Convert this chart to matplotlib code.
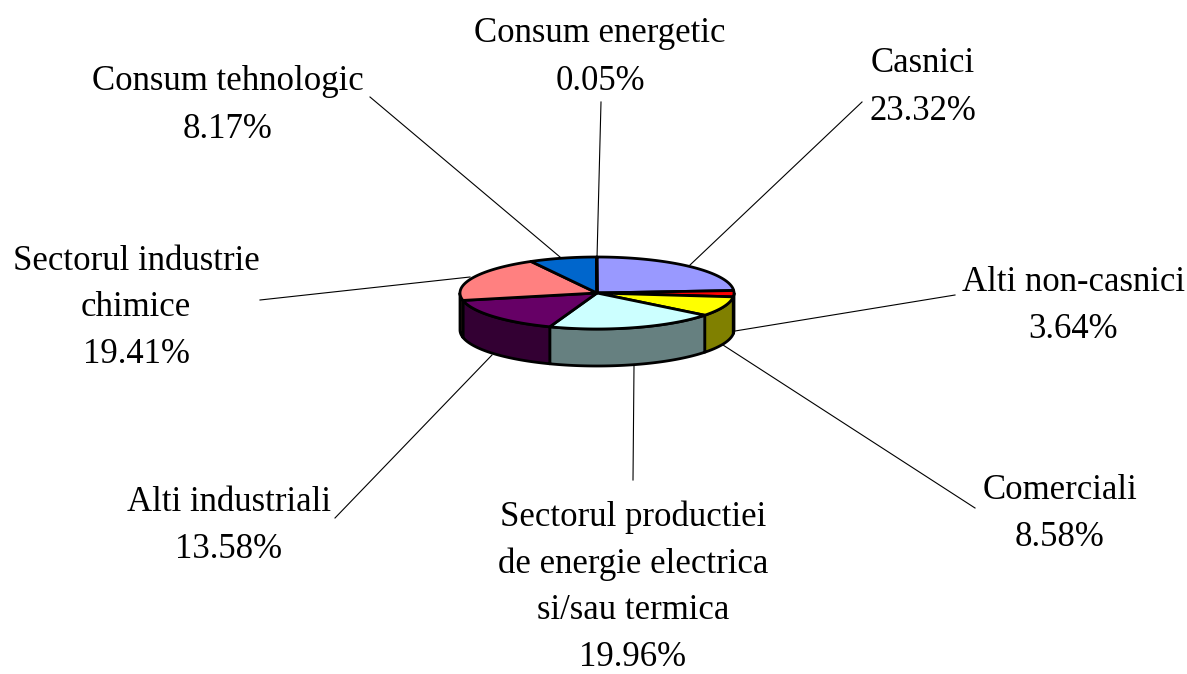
# Pseudo 3D pie of the consumption sectors
import numpy as np
import matplotlib
matplotlib.use('Agg')
import matplotlib.pyplot as plt

plt.rcParams['font.family'] = ['Liberation Serif', 'DejaVu Serif']

# Data, clockwise from 12 o'clock
names = ['Casnici', 'Alti non-casnici', 'Comerciali',
         'Sectorul productiei\nde energie electrica\nsi/sau termica',
         'Alti industriali', 'Sectorul industrie\nchimice',
         'Consum tehnologic', 'Consum energetic']
percent_labels = [23.32, 3.64, 8.58, 19.96, 13.58, 19.41, 8.17, 0.05]
# the printed labels only add up to 97.71, these are the slice sizes as measured on the picture
slice_sizes = [23.9, 2.8, 8.9, 20.0, 16.1, 20.3, 7.95, 0.05]
top_colors = ['#9999FF', '#FF0000', '#FFFF00', '#CCFFFF', '#660066', '#FF8080', '#0066CC', '#CCCCFF']
side_colors = ['#4D4D80', '#800000', '#808000', '#668080', '#330033', '#804040', '#003366', '#666680']

# Label centres, line spacing and leader line ends, in image pixels
label_xy = [(923, 88), (1073, 306), (1060, 514), (633, 587), (229, 526), (136, 308), (228, 106), (600, 57)]
label_spacing = [1.6, 1.55, 1.53, 1.53, 1.53, 1.55, 1.6, 1.6]
leader_from = [(862, 102), (955, 295), (975, 508), (633, 480), (335, 518), (260, 300), (370, 97), (601, 102)]
leader_to = [(690, 265), (735, 331), (723, 345), (634, 366), (492, 355), (470, 277), (560, 257), (597, 258)]

# Pie geometry in image pixels
cx, cy = 597, 293
rx, ry = 137, 36
depth = 37


def rim(a0, a1, dy=0.0):
    t = np.radians(np.linspace(a0, a1, max(int(abs(a1 - a0)) * 2, 2)))
    return np.column_stack([cx + rx * np.sin(t), cy + dy - ry * np.cos(t)])


fig, ax = plt.subplots(figsize=(11.87, 6.74), dpi=100)
ax.set_position([0, 0, 1, 1])
ax.set_xlim(0, 1187)
ax.set_ylim(674, 0)
ax.axis('off')

edges = np.concatenate([[0], np.cumsum(slice_sizes)]) / np.sum(slice_sizes) * 360

# leader lines
for p0, p1 in zip(leader_from, leader_to):
    ax.plot([p0[0], p1[0]], [p0[1], p1[1]], color='black', lw=0.8, zorder=1)

# side walls, only the front half can be seen
for i in range(len(slice_sizes)):
    a0, a1 = max(edges[i], 90), min(edges[i + 1], 270)
    if a1 <= a0:
        continue
    wall = np.vstack([rim(a0, a1), rim(a1, a0, depth)])
    ax.fill(wall[:, 0], wall[:, 1], facecolor=side_colors[i], edgecolor='black', lw=2, joinstyle='round', zorder=2)

# top of the slices
for i in range(len(slice_sizes)):
    top = np.vstack([[(cx, cy)], rim(edges[i], edges[i + 1])])
    ax.fill(top[:, 0], top[:, 1], facecolor=top_colors[i], edgecolor='black', lw=2, joinstyle='round', zorder=3)

# labels
for name, val, xy, sp in zip(names, percent_labels, label_xy, label_spacing):
    ax.text(xy[0], xy[1], name + '\n' + '%.2f%%' % val, ha='center', va='center', fontsize=25,
            linespacing=sp, color='black', zorder=4)

fig.savefig('out.png', dpi=100)
